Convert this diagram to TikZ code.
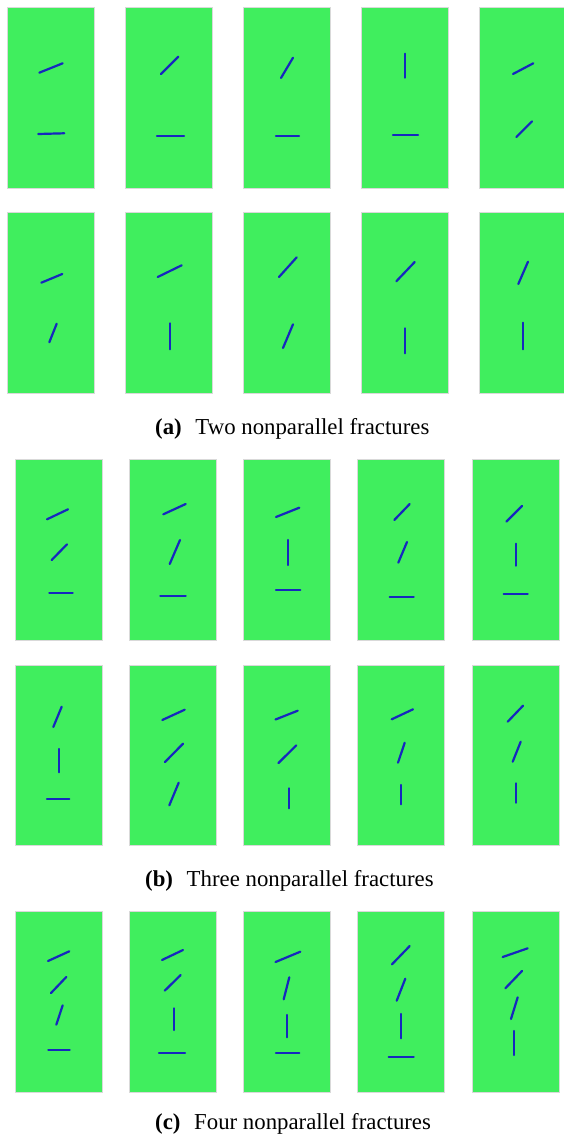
\documentclass[tikz,border=0pt]{standalone}
\usepackage{fontspec}
\setmainfont{Liberation Serif}
\definecolor{rockGreen}{HTML}{40EE5E}
\definecolor{fracBlue}{HTML}{1628BE}

\begin{document}
\begin{tikzpicture}[x=1pt,y=-1pt,
    panel/.style={fill=rockGreen,draw=black!15,line width=0.6pt},
    frac/.style={draw=fracBlue,line width=2.2pt,line cap=round},
    caption/.style={anchor=base west,inner sep=0pt,
                    font=\fontsize{22.8}{27}\selectfont}]
  \useasboundingbox (0,0) rectangle (564,1137);

  % specimens of (a)
  \foreach \px in {7.3,125.3,243.3,361.3,479.3}{
    \draw[panel] (\px,7.3) rectangle ++(87.3,181.4);
    \draw[panel] (\px,212.7) rectangle ++(87.3,181);
  }
  % specimens of (b) and (c)
  \foreach \px in {15,129.3,243.3,357.7,472}{
    \draw[panel] (\px,459.3) rectangle ++(87,181.4);
    \draw[panel] (\px,665) rectangle ++(87,180.7);
    \draw[panel] (\px,911.7) rectangle ++(87,180.3);
  }

  % two fractures
  \foreach \xa/\ya/\xb/\yb in {
      39.3/72.7/62.7/63.3, 38.3/134/64.3/133.3,
      161/74/178.3/56.7, 157/136/184/136,
      281/78/293/57.7, 276/136/299/136,
      405/53.7/405/77.7, 393/135/418/135,
      513/74/533.3/63.3, 516.3/137/532/121.3,
      41.3/282.7/62.3/274, 49.3/342.3/56.7/323.7,
      157.7/277/181.7/265.3, 170/323.3/170/349.3,
      279/277/296.7/257.3, 283/348/293/324.3,
      396.3/281.3/414.7/262, 405/328.3/405/353.3,
      518.3/284/528/261.7, 523/322.7/523/349.3}
    \draw[frac] (\xa,\ya) -- (\xb,\yb);

  % three fractures
  \foreach \xa/\ya/\xb/\yb in {
      47/519.3/68/509.3, 51.7/560/67/544.3, 49.3/592.7/72.7/592.7,
      163.3/514.3/185.7/504, 169.7/564/180/540, 160.3/595.7/185.7/595.7,
      276/517/299.3/507.7, 287.7/540/287.7/565, 276/590.3/300.3/590.3,
      394.3/520/409.7/504, 398.3/562.7/407/542, 389.7/596.7/413.7/596.7,
      506.3/521.7/522/506, 516.3/543.7/516.3/565.7, 503.7/593.7/527.7/593.7,
      53.3/727/61.7/706.7, 58.7/749/58.7/772.3, 47/798.7/69.3/798.7,
      162.3/720/184.7/709.7, 165/762/183/743.7, 169.3/805.3/178.7/782.7,
      275.5/719.5/297.7/710.7, 278.5/763/296.3/745.3, 288.7/788.3/288.7/808.3,
      391.7/719.3/413/709.3, 398/762.7/404.7/742.7, 401/785/401/804.3,
      507.7/721.7/523/705.7, 512.7/761.7/520.7/741.7, 516.3/783.3/516.3/802.7}
    \draw[frac] (\xa,\ya) -- (\xb,\yb);

  % four fractures
  \foreach \xa/\ya/\xb/\yb in {
      48/961/69.3/951.3, 51/993/66.3/977, 56.3/1024.7/62.7/1005.3, 48.3/1050.3/69.7/1050.3,
      162/960/183/950, 164.7/990.7/180.7/975, 173.7/1008.3/173.7/1030, 159/1052.7/185/1052.7,
      275.5/962/300.3/951.7, 283.7/999.3/289.3/977.3, 287/1015/287/1037.3, 276/1053.3/299.3/1053.3,
      392/964.3/409.7/946, 396.7/1000.7/405.3/978.7, 401/1014/401/1038.3, 388.7/1056.7/413.7/1056.7,
      502.7/957/527.7/948.3, 505.3/988.3/522/971, 511/1019/517.7/997.3, 514.3/1031/514.3/1055}
    \draw[frac] (\xa,\ya) -- (\xb,\yb);

  % captions
  \node[caption] (capA) at (155,434) {\textbf{(a)}\hspace{0.6em}Two nonparallel fractures};
  \node[caption] (capB) at (145,886) {\textbf{(b)}\hspace{0.6em}Three nonparallel fractures};
  \node[caption] (capC) at (155,1129) {\textbf{(c)}\hspace{0.6em}Four nonparallel fractures};
\end{tikzpicture}
\end{document}
